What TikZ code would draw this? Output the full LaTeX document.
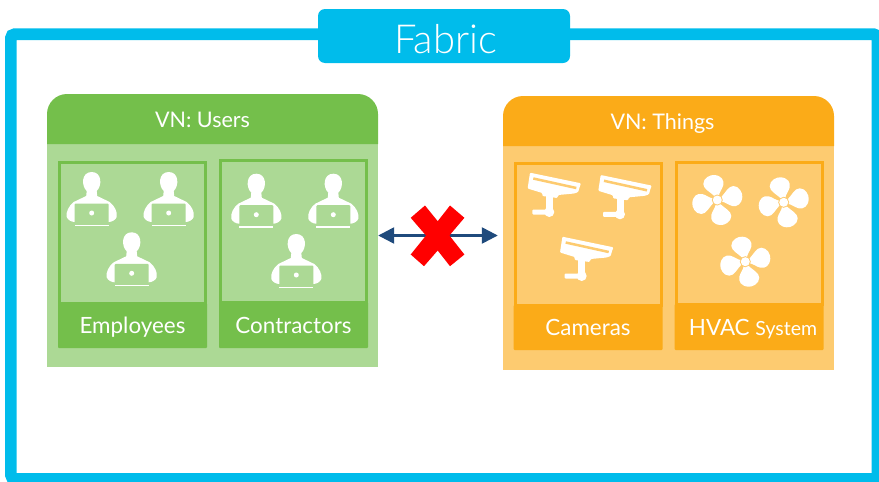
\documentclass[tikz,border=0pt]{standalone}
\usepackage{fontspec}
\setmainfont{Lato}
\newfontfamily\lightfont{Lato Light}
\usetikzlibrary{arrows.meta}
\definecolor{fabricblue}{HTML}{00BCEB}
\definecolor{usersdark}{HTML}{74BF4B}
\definecolor{userslight}{HTML}{ACD995}
\definecolor{thingsdark}{HTML}{FBAB18}
\definecolor{thingslight}{HTML}{FDCB70}
\definecolor{linkblue}{HTML}{1F4A7C}
\tikzset{
	body/.style={fill=#1,minimum width=331pt,inner sep=0pt},
	head/.style={text=white,font=\fontsize{21.5}{24}\selectfont,inner sep=0pt,text height=14pt,text depth=0pt},
	groupbox/.style={draw=#1,line width=3pt,minimum width=146pt,inner sep=0pt},
	band/.style={fill=#1,text=white,font=\fontsize{22.4}{24}\selectfont,minimum width=149pt,inner sep=0pt,rounded corners=1pt,text height=16pt,text depth=0pt},
	pics/person/.style={code={
		\fill[white] (-5,-22) .. controls (-10.5,-27) and (-10.5,-41) .. (0,-41) .. controls (10.5,-41) and (10.5,-27) .. (5,-22) -- (5.5,-17) -- (18,-11) .. controls (23,-7) and (26,-1) .. (25,4) .. controls (24,7) and (20,9) .. (17,9) -- (-17,9) .. controls (-20,9) and (-24,7) .. (-25,4) .. controls (-26,-1) and (-23,-7) .. (-18,-11) -- (-5.5,-17) -- cycle;
		\fill[userslight,rounded corners=1pt] (-17,-9.5) rectangle (17,10.5);
		\fill[white] (0,0) circle (2.5);
		\fill[white] (-17,11.5) rectangle (17,13);
	}},
	pics/camera/.style={code={
		\fill[white] (-3.5,-16) rectangle (3.5,0);
		\fill[white,rounded corners=1pt] (-17,-2.5) rectangle (0,2.5);
		\fill[white] (0,0) circle (5);
		\fill[white,rounded corners=1pt] (-19.3,-39.3) -- (31.7,-28.7) -- (30,-24) -- (29,-20) -- (25,-18.5) -- (9,-17) -- (8,-14) -- (-7,-16) -- (-7,-19) -- (-21.7,-23.5) -- cycle;
		\draw[thingslight,line width=2.5pt] (-16,-33.5) -- (27,-24);
	}},
	pics/fan/.style={code={
		\foreach \ang in {0,90,180,270}
			\fill[white,rotate=\ang] (-3,-4) .. controls (-7,-8) and (-14,-11) .. (-14,-16) .. controls (-14,-22) and (-7,-25.5) .. (-3,-25) .. controls (4,-24.5) and (7,-20) .. (6,-15) .. controls (5,-11) and (2,-8) .. (1.5,-4) -- cycle;
		\fill[thingslight] (0,0) circle (5.5);
		\fill[white] (0,0) circle (4.5);
	}},
	pics/crossmark/.style={code={
		\fill[red] (-12.7,-30) -- (0,-14.3) -- (12.3,-30) -- (26.7,-17.7) -- (11.7,0) -- (26.7,19) -- (12.3,30.7) -- (0,15) -- (-13.7,30.7) -- (-27,19) -- (-11.7,0) -- (-27,-17.7) -- cycle;
	}}
}
\begin{document}
\begin{tikzpicture}[x=1pt,y=-1pt]
	\clip (0,0) rectangle (879,482);
	\draw[fabricblue,line width=11.7pt,rounded corners=4pt] (10.85,34.15) rectangle (877.55,478.85);
	\node (fabric) [fill=fabricblue,text=white,rounded corners=7pt,minimum width=252pt,minimum height=54pt,inner sep=0pt,font=\lightfont\fontsize{40}{42}\selectfont,text height=34pt,text depth=0pt] at (444,36) {\hspace*{3pt}Fabric};
	% panels
	\node (users) [body=userslight,minimum height=247pt] at (212.5,243.5) {};
	\node (things) [body=thingslight,minimum height=248pt] at (668.5,246) {};
	\fill[usersdark,rounded corners=20pt] (47,144) -- (47,94) -- (378,94) [sharp corners] -- (378,144) -- cycle;
	\fill[thingsdark,rounded corners=20pt] (503,146) -- (503,96) -- (834,96) [sharp corners] -- (834,146) -- cycle;
	\node (usershead) [head] at (202.5,120) {VN: Users};
	\node (thingshead) [head] at (662.5,122) {VN: Things};
	% groups
	\node (employees) [groupbox=usersdark,minimum height=141pt] at (132.5,232.5) {};
	\node (contractors) [groupbox=usersdark,minimum height=142pt] at (293.5,231) {};
	\node (cameras) [groupbox=thingsdark,minimum height=142pt] at (588,234) {};
	\node (hvac) [groupbox=thingsdark,minimum height=142pt] at (749,233) {};
	\node (employeeslabel) [band=usersdark,minimum height=45pt] at (132.5,325.5) {Employees};
	\node (contractorslabel) [band=usersdark,minimum height=46pt] at (293.5,325) {Contractors};
	\node (cameraslabel) [band=thingsdark,minimum height=45pt] at (588,327.5) {Cameras};
	\node (hvaclabel) [band=thingsdark,minimum height=46pt] at (749,327) {\hspace*{8pt}HVAC {\fontsize{19.5}{20}\selectfont System}};
	% icons
	\foreach \px/\py in {91.7/213,168.7/213,131.7/273.3,256.3/214.7,333.3/214.7,296.3/275}
		\pic at (\px,\py) {person};
	\foreach \px/\py in {549.3/212,620/214.3,581.7/276}
		\pic at (\px,\py) {camera};
	\foreach \px/\py in {717.3/200,783.7/202.3,745.3/261.7}
		\pic at (\px,\py) {fan};
	% link
	\coordinate (xmark) at (437.7,235.5);
	\draw[{Triangle[length=16pt,width=16pt]}-{Triangle[length=16pt,width=16pt]},linkblue,line width=2.5pt,shorten >=5pt] (users.east |- xmark) -- (things.west |- xmark);
	\pic at (xmark) {crossmark};
\end{tikzpicture}
\end{document}
